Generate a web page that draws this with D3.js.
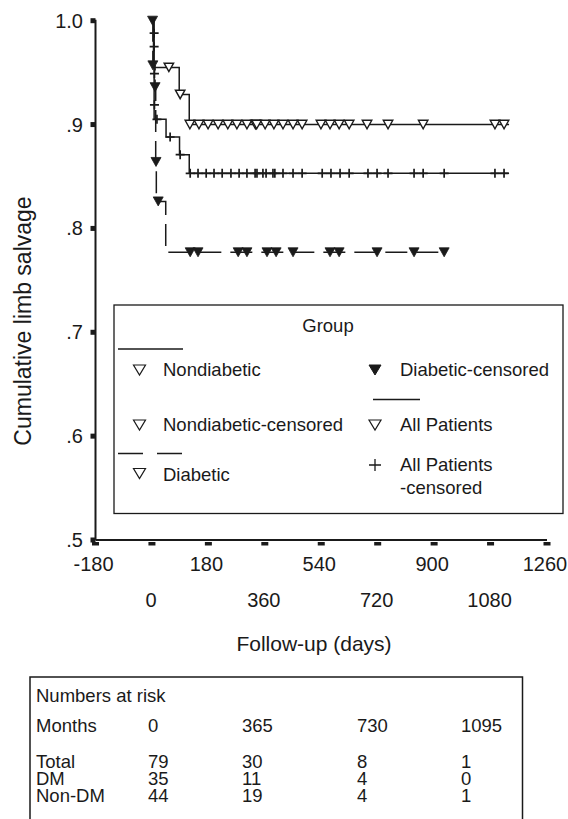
<!DOCTYPE html>
<html>
<head>
<meta charset="utf-8">
<script src="https://cdn.jsdelivr.net/npm/d3@7/dist/d3.min.js"></script>
<style>
  html, body { margin: 0; padding: 0; background: #fff; }
  svg { display: block; }
  text { font-family: "Liberation Sans", Arial, Helvetica, sans-serif; fill: #1a1a1a; }
</style>
</head>
<body>
<svg id="chart" width="568" height="819"></svg>
<script>
// ---------------- DATA ----------------
const xTicks = [-180, 0, 180, 360, 540, 720, 900, 1080, 1260];
const xLabelsRow1 = [-180, 180, 540, 900, 1260];
const xLabelsRow2 = [0, 360, 720, 1080];
const yTicks = [0.5, 0.6, 0.7, 0.8, 0.9, 1.0];
const yTickLabels = [".5", ".6", ".7", ".8", ".9", "1.0"];

// Kaplan-Meier steps: [day, cumulative limb salvage]
const nondiabeticSteps = [[0, 1.0], [5, 0.955], [87, 0.929], [119, 0.900]];
const nondiabeticEnd = 1139;
const nondiabeticCensored = [[54, 0.955], [90, 0.929],
  [121, 0.9], [150, 0.9], [179, 0.9], [211, 0.9], [242, 0.9], [271, 0.9], [303, 0.9],
  [330, 0.9], [334, 0.9], [361, 0.9], [389, 0.9], [418, 0.9], [450, 0.9], [479, 0.9],
  [539, 0.9], [568, 0.9], [597, 0.9], [629, 0.9], [686, 0.9], [753, 0.9], [865, 0.9],
  [1094, 0.9], [1123, 0.9]];

const diabeticSteps = [[0, 1.0], [3, 0.957], [10, 0.936], [12, 0.864], [14, 0.826], [44, 0.777]];
const diabeticEnd = 935;
const diabeticCensored = [[2, 1.0], [3, 0.957], [10, 0.936], [13, 0.864], [20, 0.826],
  [122, 0.777], [147, 0.777], [275, 0.777], [303, 0.777], [367, 0.777], [396, 0.777],
  [450, 0.777], [568, 0.777], [597, 0.777], [718, 0.777], [836, 0.777], [932, 0.777]];

const allSteps = [[0, 1.0], [7, 0.905], [45, 0.888], [88, 0.871], [119, 0.853]];
const allEnd = 1139;
const allCensored = [[7, 0.988], [7, 0.975], [8, 0.949], [8, 0.919], [16, 0.905], [58, 0.888], [90, 0.871],
  [122, 0.853], [147, 0.853], [173, 0.853], [198, 0.853], [224, 0.853], [252, 0.853], [278, 0.853],
  [303, 0.853], [329, 0.853], [335, 0.853], [354, 0.853], [364, 0.853], [386, 0.853], [392, 0.853],
  [418, 0.853], [450, 0.853], [479, 0.853], [543, 0.853], [571, 0.853], [600, 0.853], [629, 0.853],
  [689, 0.853], [718, 0.853], [753, 0.853], [836, 0.853], [865, 0.853], [932, 0.853],
  [1094, 0.853], [1123, 0.853]];

// Numbers at risk table
const riskTitle = "Numbers at risk";
const riskTimes = ["0", "365", "730", "1095"];
const riskGroups = ["Total", "DM", "Non-DM"];
const riskTotal = [79, 30, 8, 1];
const riskDM = [35, 11, 4, 0];
const riskNonDM = [44, 19, 4, 1];

// ---------------- CHART ----------------
const svg = d3.select("#chart");
const ink = "#1a1a1a";

const x = d3.scaleLinear().domain([-180, 1260]).range([95.5, 547]);
const y = d3.scaleLinear().domain([0.5, 1.0]).range([540, 20.7]);

// Axes
svg.append("line").attr("x1", x(-180)).attr("x2", x(1260)).attr("y1", y(0.5)).attr("y2", y(0.5))
  .attr("stroke", ink).attr("stroke-width", 2);
svg.append("line").attr("x1", x(-180)).attr("x2", x(-180)).attr("y1", y(1.0) - 1).attr("y2", y(0.5))
  .attr("stroke", ink).attr("stroke-width", 2);

svg.selectAll(".xt").data(xTicks).enter().append("rect")
  .attr("x", d => x(d) - 3.5).attr("y", y(0.5) + 2).attr("width", 7).attr("height", 3.5).attr("fill", ink);
svg.selectAll(".yt").data(yTicks).enter().append("rect")
  .attr("x", x(-180) - 5).attr("y", d => y(d) - 2.5).attr("width", 5).attr("height", 5).attr("fill", ink);

svg.selectAll(".yl").data(yTicks).enter().append("text")
  .attr("x", 83).attr("y", d => y(d) + 7).attr("text-anchor", "end")
  .attr("font-size", 20).text((d, i) => yTickLabels[i]);

svg.selectAll(".xl1").data(xLabelsRow1).enter().append("text")
  .attr("x", d => x(d) - 2).attr("y", 571).attr("text-anchor", "middle")
  .attr("font-size", 20).text(d => d);
svg.selectAll(".xl2").data(xLabelsRow2).enter().append("text")
  .attr("x", d => x(d) - 1).attr("y", 607).attr("text-anchor", "middle")
  .attr("font-size", 20).text(d => d);

svg.append("text").attr("x", 314).attr("y", 651).attr("text-anchor", "middle")
  .attr("font-size", 21).text("Follow-up (days)");
svg.append("text").attr("transform", "translate(31,321) rotate(-90)").attr("text-anchor", "middle")
  .attr("font-size", 23).text("Cumulative limb salvage");

// Curves
const stepLine = d3.line().x(d => x(d[0])).y(d => y(d[1])).curve(d3.curveStepAfter);
function curvePts(steps, end) {
  return steps.concat([[end, steps[steps.length - 1][1]]]);
}
svg.append("path").attr("d", stepLine(curvePts(nondiabeticSteps, nondiabeticEnd)))
  .attr("fill", "none").attr("stroke", ink).attr("stroke-width", 1.5);
svg.append("path").attr("d", stepLine(curvePts(allSteps, allEnd)))
  .attr("fill", "none").attr("stroke", ink).attr("stroke-width", 1.5);
svg.append("path").attr("d", stepLine(curvePts(diabeticSteps, diabeticEnd)))
  .attr("fill", "none").attr("stroke", ink).attr("stroke-width", 1.5)
  .attr("stroke-dasharray", "22,9");

function triPath(cx, cy, w, h) {
  return `M${cx - w / 2},${cy - h / 2}L${cx + w / 2},${cy - h / 2}L${cx},${cy + h / 2}Z`;
}
// Censor marks
svg.selectAll(".ac").data(allCensored).enter().append("path")
  .attr("d", d => { const cx = x(d[0]), cy = y(d[1]); return `M${cx - 4.5},${cy}H${cx + 4.5}M${cx},${cy - 4.5}V${cy + 4.5}`; })
  .attr("stroke", ink).attr("stroke-width", 1.7).attr("fill", "none");
svg.selectAll(".nc").data(nondiabeticCensored).enter().append("path")
  .attr("d", d => triPath(x(d[0]), y(d[1]), 9.5, 8.5))
  .attr("fill", "#fff").attr("stroke", ink).attr("stroke-width", 1.4).attr("stroke-linejoin", "miter");
svg.selectAll(".dc").data(diabeticCensored).enter().append("path")
  .attr("d", d => triPath(x(d[0]), y(d[1]), 10, 9))
  .attr("fill", ink).attr("stroke", ink).attr("stroke-width", 0.8);

// Legend
const lg = svg.append("g");
lg.append("rect").attr("x", 114).attr("y", 305).attr("width", 449).attr("height", 208.5)
  .attr("fill", "#fff").attr("stroke", ink).attr("stroke-width", 1.3);
lg.append("text").attr("x", 328).attr("y", 332).attr("text-anchor", "middle").attr("font-size", 18.5).text("Group");
const lfs = 18.5;
// left column
lg.append("line").attr("x1", 118).attr("x2", 183).attr("y1", 349).attr("y2", 349).attr("stroke", ink).attr("stroke-width", 1.3);
lg.append("path").attr("d", triPath(139.5, 370, 12, 10)).attr("fill", "#fff").attr("stroke", ink).attr("stroke-width", 1.2);
lg.append("text").attr("x", 163).attr("y", 376).attr("font-size", lfs).text("Nondiabetic");
lg.append("path").attr("d", triPath(139.5, 425, 12, 10)).attr("fill", "#fff").attr("stroke", ink).attr("stroke-width", 1.2);
lg.append("text").attr("x", 163).attr("y", 431).attr("font-size", lfs).text("Nondiabetic-censored");
lg.append("line").attr("x1", 118).attr("x2", 183).attr("y1", 453.5).attr("y2", 453.5).attr("stroke", ink).attr("stroke-width", 1.3)
  .attr("stroke-dasharray", "25,14");
lg.append("path").attr("d", triPath(139.5, 473.5, 12, 10)).attr("fill", "#fff").attr("stroke", ink).attr("stroke-width", 1.2);
lg.append("text").attr("x", 163).attr("y", 481).attr("font-size", lfs).text("Diabetic");
// right column
lg.append("path").attr("d", triPath(375, 370, 12, 10)).attr("fill", ink).attr("stroke", ink).attr("stroke-width", 1);
lg.append("text").attr("x", 400).attr("y", 376).attr("font-size", lfs).text("Diabetic-censored");
lg.append("line").attr("x1", 373).attr("x2", 420).attr("y1", 399.5).attr("y2", 399.5).attr("stroke", ink).attr("stroke-width", 1.3);
lg.append("path").attr("d", triPath(375, 425, 12, 10)).attr("fill", "#fff").attr("stroke", ink).attr("stroke-width", 1.2);
lg.append("text").attr("x", 400).attr("y", 431).attr("font-size", lfs).text("All Patients");
lg.append("path").attr("d", "M369,465H381M375,459V471").attr("stroke", ink).attr("stroke-width", 1.3);
lg.append("text").attr("x", 400).attr("y", 471).attr("font-size", lfs).text("All Patients");
lg.append("text").attr("x", 400).attr("y", 494).attr("font-size", lfs).text("-censored");

// Numbers at risk table
const tb = svg.append("g");
tb.append("rect").attr("x", 30).attr("y", 677).attr("width", 492.5).attr("height", 160)
  .attr("fill", "none").attr("stroke", ink).attr("stroke-width", 1.5);
const tfs = 18.5;
const colX = [148, 242, 357, 461];
tb.append("text").attr("x", 36).attr("y", 702).attr("font-size", tfs).text(riskTitle);
tb.append("text").attr("x", 36).attr("y", 732).attr("font-size", tfs).text("Months");
riskTimes.forEach((t, i) => tb.append("text").attr("x", colX[i]).attr("y", 732).attr("font-size", tfs).text(t));
const rows = [riskTotal, riskDM, riskNonDM];
const rowY = [768, 785, 802];
rows.forEach((r, j) => {
  tb.append("text").attr("x", 36).attr("y", rowY[j]).attr("font-size", tfs).text(riskGroups[j]);
  r.forEach((v, i) => tb.append("text").attr("x", colX[i]).attr("y", rowY[j]).attr("font-size", tfs).text(v));
});
</script>
</body>
</html>
